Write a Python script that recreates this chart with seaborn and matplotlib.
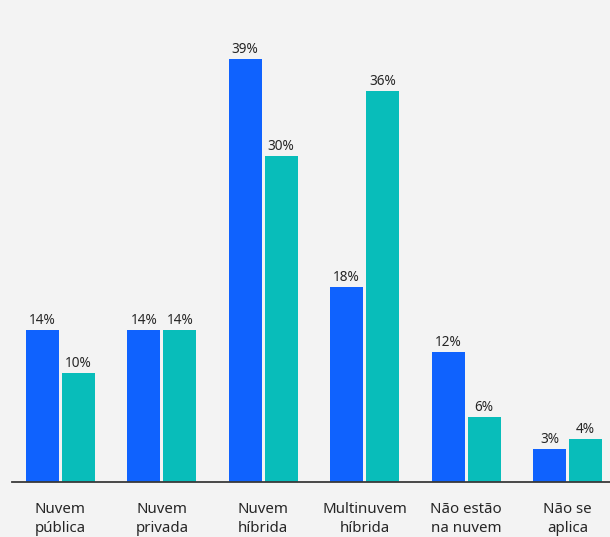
import matplotlib
matplotlib.use("Agg")
import matplotlib.pyplot as plt
import seaborn as sns
import pandas as pd

categories = ["Nuvem\npública", "Nuvem\nprivada", "Nuvem\nhíbrida",
              "Multinuvem\nhíbrida", "Não estão\nna nuvem", "Não se\naplica"]
series_names = ["A", "B"]
values_a = [14, 14, 39, 18, 12, 3]
values_b = [10, 14, 30, 36, 6, 4]
colors = ["#0f62fe", "#08bdba"]

df = pd.DataFrame({
    "cat": categories * 2,
    "serie": [series_names[0]] * len(categories) + [series_names[1]] * len(categories),
    "val": values_a + values_b,
})

sns.set_theme(style="white")
plt.rcParams["font.family"] = ["Noto Sans", "DejaVu Sans"]
bg = "#f3f3f3"
fig = plt.figure(figsize=(6.10, 5.37), dpi=100, facecolor=bg)
ax = fig.add_axes([12 / 610, 55 / 537, 1 - 12 / 610, 1 - 55 / 537])
ax.set_facecolor(bg)

sns.barplot(data=df, x="cat", y="val", hue="serie", order=categories,
            hue_order=series_names, palette=colors, width=0.71, gap=0.083,
            saturation=1, legend=False, ax=ax, errorbar=None, linewidth=0)

for cont in ax.containers:
    for bar in cont:
        bar.set_edgecolor("none")
        h = bar.get_height()
        ax.annotate(f"{h:.0f}%", (bar.get_x() + bar.get_width() / 2, h),
                    xytext=(0, 2), textcoords="offset pixels",
                    ha="center", va="bottom", fontsize=9.8, color="#262626")

ax.set_xlim(-0.478, 5.42)
ax.set_ylim(0, 44.42)
ax.set_xlabel("")
ax.set_ylabel("")
ax.set_yticks([])
for s in ["top", "right", "left"]:
    ax.spines[s].set_visible(False)
ax.spines["bottom"].set_color("#393939")
ax.spines["bottom"].set_linewidth(1.3)
ax.tick_params(axis="x", length=0, pad=14.5, labelsize=10.8, labelcolor="#262626")
for t in ax.get_xticklabels():
    t.set_linespacing(1.35)

fig.savefig("out.png", dpi=100, facecolor=bg)
